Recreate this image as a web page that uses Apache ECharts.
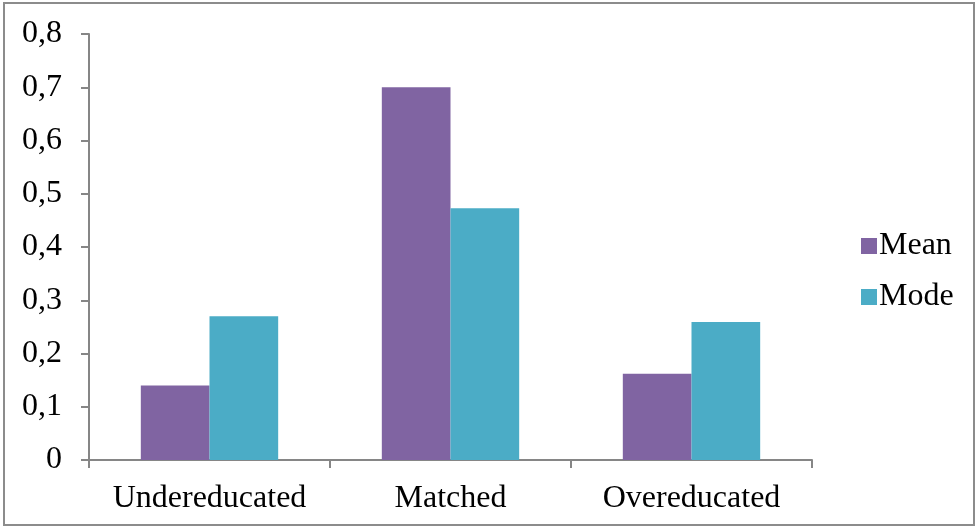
<!DOCTYPE html>
<html>
<head>
<meta charset="utf-8">
<script src="https://cdn.jsdelivr.net/npm/echarts@6/dist/echarts.min.js"></script>
<style>
  html, body { margin: 0; padding: 0; background: #fff; }
  #chart { width: 977px; height: 528px; }
</style>
</head>
<body>
<div id="chart"></div>
<script>
// Education match categories and the two summary statistics per category
const categories = ['Undereducated', 'Matched', 'Overeducated'];
const meanValues = [0.14, 0.70, 0.162];
const modeValues = [0.27, 0.473, 0.259];
const seriesNames = ['Mean', 'Mode'];

const FONT = '"Liberation Serif", "Times New Roman", serif';
const FONT_SIZE = 32;
const AXIS_GRAY = '#868686';

const chart = echarts.init(document.getElementById('chart'), null, { renderer: 'canvas' });

chart.setOption({
  animation: false,
  backgroundColor: '#fff',
  color: ['#8064A2', '#4BACC6'],
  grid: { left: 89, right: 165, top: 34, bottom: 68, containLabel: false },
  legend: {
    orient: 'vertical',
    left: 856,
    top: 225,
    itemWidth: 16,
    itemHeight: 16,
    itemGap: 19,
    icon: 'rect',
    data: seriesNames,
    textStyle: { fontFamily: FONT, fontSize: FONT_SIZE, color: '#000', lineHeight: 32, padding: [0, 0, 0, -3] }
  },
  xAxis: {
    type: 'category',
    data: categories,
    axisLine: { lineStyle: { color: AXIS_GRAY, width: 2 } },
    axisTick: { show: true, length: 8, interval: 0, alignWithLabel: false, lineStyle: { color: AXIS_GRAY, width: 2 } },
    axisLabel: { fontFamily: FONT, fontSize: FONT_SIZE, color: '#000', margin: 23, interval: 0 },
    splitLine: { show: false }
  },
  yAxis: {
    type: 'value',
    min: 0,
    max: 0.8,
    interval: 0.1,
    axisLine: { show: true, lineStyle: { color: AXIS_GRAY, width: 2 } },
    axisTick: { show: true, length: 8, lineStyle: { color: AXIS_GRAY, width: 2 } },
    axisLabel: {
      fontFamily: FONT, fontSize: FONT_SIZE, color: '#000', margin: 27,
      padding: [3, 0, 0, 0],
      formatter: function (v) { return v === 0 ? '0' : v.toFixed(1).replace('.', ','); }
    },
    splitLine: { show: false }
  },
  series: [
    { name: seriesNames[0], type: 'bar', data: meanValues, barGap: '0%', barCategoryGap: '43%' },
    { name: seriesNames[1], type: 'bar', data: modeValues, barGap: '0%', barCategoryGap: '43%' }
  ],
  graphic: [{
    type: 'rect',
    shape: { x: 4, y: 3, width: 970, height: 522 },
    style: { fill: 'none', stroke: '#8c8c8c', lineWidth: 2 },
    silent: true
  }]
});
</script>
</body>
</html>
